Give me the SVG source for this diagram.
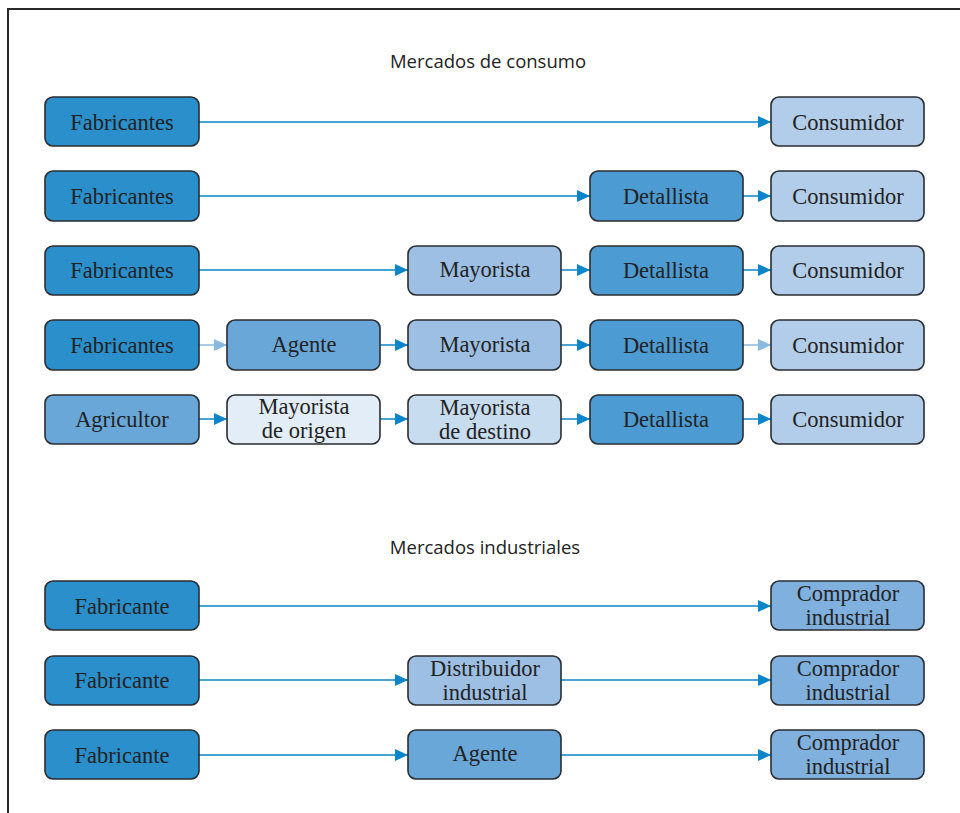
<svg xmlns="http://www.w3.org/2000/svg" width="960" height="813" viewBox="0 0 960 813">
  <style>
    .box { stroke: #2a2d31; stroke-width: 1.6; }
    .lbl { font-family: "Liberation Serif", "Times New Roman", serif; font-size: 22.5px; fill: #222; text-anchor: middle; }
    .ttl { font-family: "Open Sans", "Liberation Sans", sans-serif; font-size: 18.5px; fill: #222; text-anchor: middle; }
    .ln { stroke: #0a85c9; stroke-width: 1.5; fill: none; }
    .ln-lt { stroke: #8ab9e0; stroke-width: 1.5; fill: none; }
    .c1 { fill: #2b8fcb; }
    .c2 { fill: #4d9bd3; }
    .c3 { fill: #69a7d9; }
    .c4 { fill: #9cbfe3; }
    .c5 { fill: #b2cde9; }
    .c6 { fill: #e3edf7; }
    .c7 { fill: #c8dcf0; }
    .c8 { fill: #80b0dd; }
  </style>
  <defs>
    <marker id="ah" viewBox="0 0 13 12" refX="13" refY="6" markerWidth="13" markerHeight="12" markerUnits="userSpaceOnUse" orient="auto">
      <path d="M0,0 L13,6 L0,12 Z" fill="#0a85c9"/>
    </marker>
    <marker id="ah-lt" viewBox="0 0 13 12" refX="13" refY="6" markerWidth="13" markerHeight="12" markerUnits="userSpaceOnUse" orient="auto">
      <path d="M0,0 L13,6 L0,12 Z" fill="#8ab9e0"/>
    </marker>
  </defs>

  <!-- frame -->
  <path d="M8,813 L8,9 L960,9" fill="none" stroke="#2a2a2a" stroke-width="2"/>

  <text class="ttl" x="488" y="68">Mercados de consumo</text>
  <text class="ttl" x="485" y="554">Mercados industriales</text>

  <!-- connectors -->
  <g id="connectors">
    <line class="ln" x1="199" y1="122" x2="771" y2="122" marker-end="url(#ah)"/>

    <line class="ln" x1="199" y1="196" x2="590" y2="196" marker-end="url(#ah)"/>
    <line class="ln" x1="743" y1="196" x2="771" y2="196" marker-end="url(#ah)"/>

    <line class="ln" x1="199" y1="270" x2="408" y2="270" marker-end="url(#ah)"/>
    <line class="ln" x1="561" y1="270" x2="590" y2="270" marker-end="url(#ah)"/>
    <line class="ln" x1="743" y1="270" x2="771" y2="270" marker-end="url(#ah)"/>

    <line class="ln-lt" x1="199" y1="345" x2="227" y2="345" marker-end="url(#ah-lt)"/>
    <line class="ln" x1="380" y1="345" x2="408" y2="345" marker-end="url(#ah)"/>
    <line class="ln" x1="561" y1="345" x2="590" y2="345" marker-end="url(#ah)"/>
    <line class="ln-lt" x1="743" y1="345" x2="771" y2="345" marker-end="url(#ah-lt)"/>

    <line class="ln" x1="199" y1="419" x2="227" y2="419" marker-end="url(#ah)"/>
    <line class="ln" x1="380" y1="419" x2="408" y2="419" marker-end="url(#ah)"/>
    <line class="ln" x1="561" y1="419" x2="590" y2="419" marker-end="url(#ah)"/>
    <line class="ln" x1="743" y1="419" x2="771" y2="419" marker-end="url(#ah)"/>

    <line class="ln" x1="199" y1="606" x2="771" y2="606" marker-end="url(#ah)"/>

    <line class="ln" x1="199" y1="680" x2="408" y2="680" marker-end="url(#ah)"/>
    <line class="ln" x1="561" y1="680" x2="771" y2="680" marker-end="url(#ah)"/>

    <line class="ln" x1="199" y1="755" x2="408" y2="755" marker-end="url(#ah)"/>
    <line class="ln" x1="561" y1="755" x2="771" y2="755" marker-end="url(#ah)"/>
  </g>

  <!-- row 1 -->
  <g id="r1-fabricantes"><rect class="box c1" x="45" y="97" width="154" height="49" rx="8"/><text class="lbl" x="122" y="130">Fabricantes</text></g>
  <g id="r1-consumidor"><rect class="box c5" x="771" y="97" width="153" height="49" rx="8"/><text class="lbl" x="848" y="130">Consumidor</text></g>

  <!-- row 2 -->
  <g id="r2-fabricantes"><rect class="box c1" x="45" y="171" width="154" height="50" rx="8"/><text class="lbl" x="122" y="204">Fabricantes</text></g>
  <g id="r2-detallista"><rect class="box c2" x="590" y="171" width="153" height="50" rx="8"/><text class="lbl" x="666" y="204">Detallista</text></g>
  <g id="r2-consumidor"><rect class="box c5" x="771" y="171" width="153" height="50" rx="8"/><text class="lbl" x="848" y="204">Consumidor</text></g>

  <!-- row 3 -->
  <g id="r3-fabricantes"><rect class="box c1" x="45" y="246" width="154" height="49" rx="8"/><text class="lbl" x="122" y="278">Fabricantes</text></g>
  <g id="r3-mayorista"><rect class="box c4" x="408" y="246" width="153" height="49" rx="8"/><text class="lbl" x="485" y="277">Mayorista</text></g>
  <g id="r3-detallista"><rect class="box c2" x="590" y="246" width="153" height="49" rx="8"/><text class="lbl" x="666" y="278">Detallista</text></g>
  <g id="r3-consumidor"><rect class="box c5" x="771" y="246" width="153" height="49" rx="8"/><text class="lbl" x="848" y="278">Consumidor</text></g>

  <!-- row 4 -->
  <g id="r4-fabricantes"><rect class="box c1" x="45" y="320" width="154" height="50" rx="8"/><text class="lbl" x="122" y="353">Fabricantes</text></g>
  <g id="r4-agente"><rect class="box c3" x="227" y="320" width="153" height="50" rx="8"/><text class="lbl" x="304" y="352">Agente</text></g>
  <g id="r4-mayorista"><rect class="box c4" x="408" y="320" width="153" height="50" rx="8"/><text class="lbl" x="485" y="352">Mayorista</text></g>
  <g id="r4-detallista"><rect class="box c2" x="590" y="320" width="153" height="50" rx="8"/><text class="lbl" x="666" y="353">Detallista</text></g>
  <g id="r4-consumidor"><rect class="box c5" x="771" y="320" width="153" height="50" rx="8"/><text class="lbl" x="848" y="353">Consumidor</text></g>

  <!-- row 5 -->
  <g id="r5-agricultor"><rect class="box c3" x="45" y="395" width="154" height="49" rx="8"/><text class="lbl" x="122" y="427">Agricultor</text></g>
  <g id="r5-mayorista-origen"><rect class="box c6" x="227" y="395" width="153" height="49" rx="8"/><text class="lbl" x="304" y="414">Mayorista</text><text class="lbl" x="304" y="438">de origen</text></g>
  <g id="r5-mayorista-destino"><rect class="box c7" x="408" y="395" width="153" height="49" rx="8"/><text class="lbl" x="485" y="415">Mayorista</text><text class="lbl" x="485" y="439">de destino</text></g>
  <g id="r5-detallista"><rect class="box c2" x="590" y="395" width="153" height="49" rx="8"/><text class="lbl" x="666" y="427">Detallista</text></g>
  <g id="r5-consumidor"><rect class="box c5" x="771" y="395" width="153" height="49" rx="8"/><text class="lbl" x="848" y="427">Consumidor</text></g>

  <!-- industrial row 1 -->
  <g id="i1-fabricante"><rect class="box c1" x="45" y="581" width="154" height="49" rx="8"/><text class="lbl" x="122" y="614">Fabricante</text></g>
  <g id="i1-comprador"><rect class="box c8" x="771" y="581" width="153" height="49" rx="8"/><text class="lbl" x="848" y="601">Comprador</text><text class="lbl" x="848" y="625">industrial</text></g>

  <!-- industrial row 2 -->
  <g id="i2-fabricante"><rect class="box c1" x="45" y="656" width="154" height="49" rx="8"/><text class="lbl" x="122" y="688">Fabricante</text></g>
  <g id="i2-distribuidor"><rect class="box c4" x="408" y="656" width="153" height="49" rx="8"/><text class="lbl" x="485" y="676">Distribuidor</text><text class="lbl" x="485" y="700">industrial</text></g>
  <g id="i2-comprador"><rect class="box c8" x="771" y="656" width="153" height="49" rx="8"/><text class="lbl" x="848" y="676">Comprador</text><text class="lbl" x="848" y="700">industrial</text></g>

  <!-- industrial row 3 -->
  <g id="i3-fabricante"><rect class="box c1" x="45" y="730" width="154" height="49" rx="8"/><text class="lbl" x="122" y="763">Fabricante</text></g>
  <g id="i3-agente"><rect class="box c3" x="408" y="730" width="153" height="49" rx="8"/><text class="lbl" x="485" y="761">Agente</text></g>
  <g id="i3-comprador"><rect class="box c8" x="771" y="730" width="153" height="49" rx="8"/><text class="lbl" x="848" y="750">Comprador</text><text class="lbl" x="848" y="774">industrial</text></g>
</svg>
